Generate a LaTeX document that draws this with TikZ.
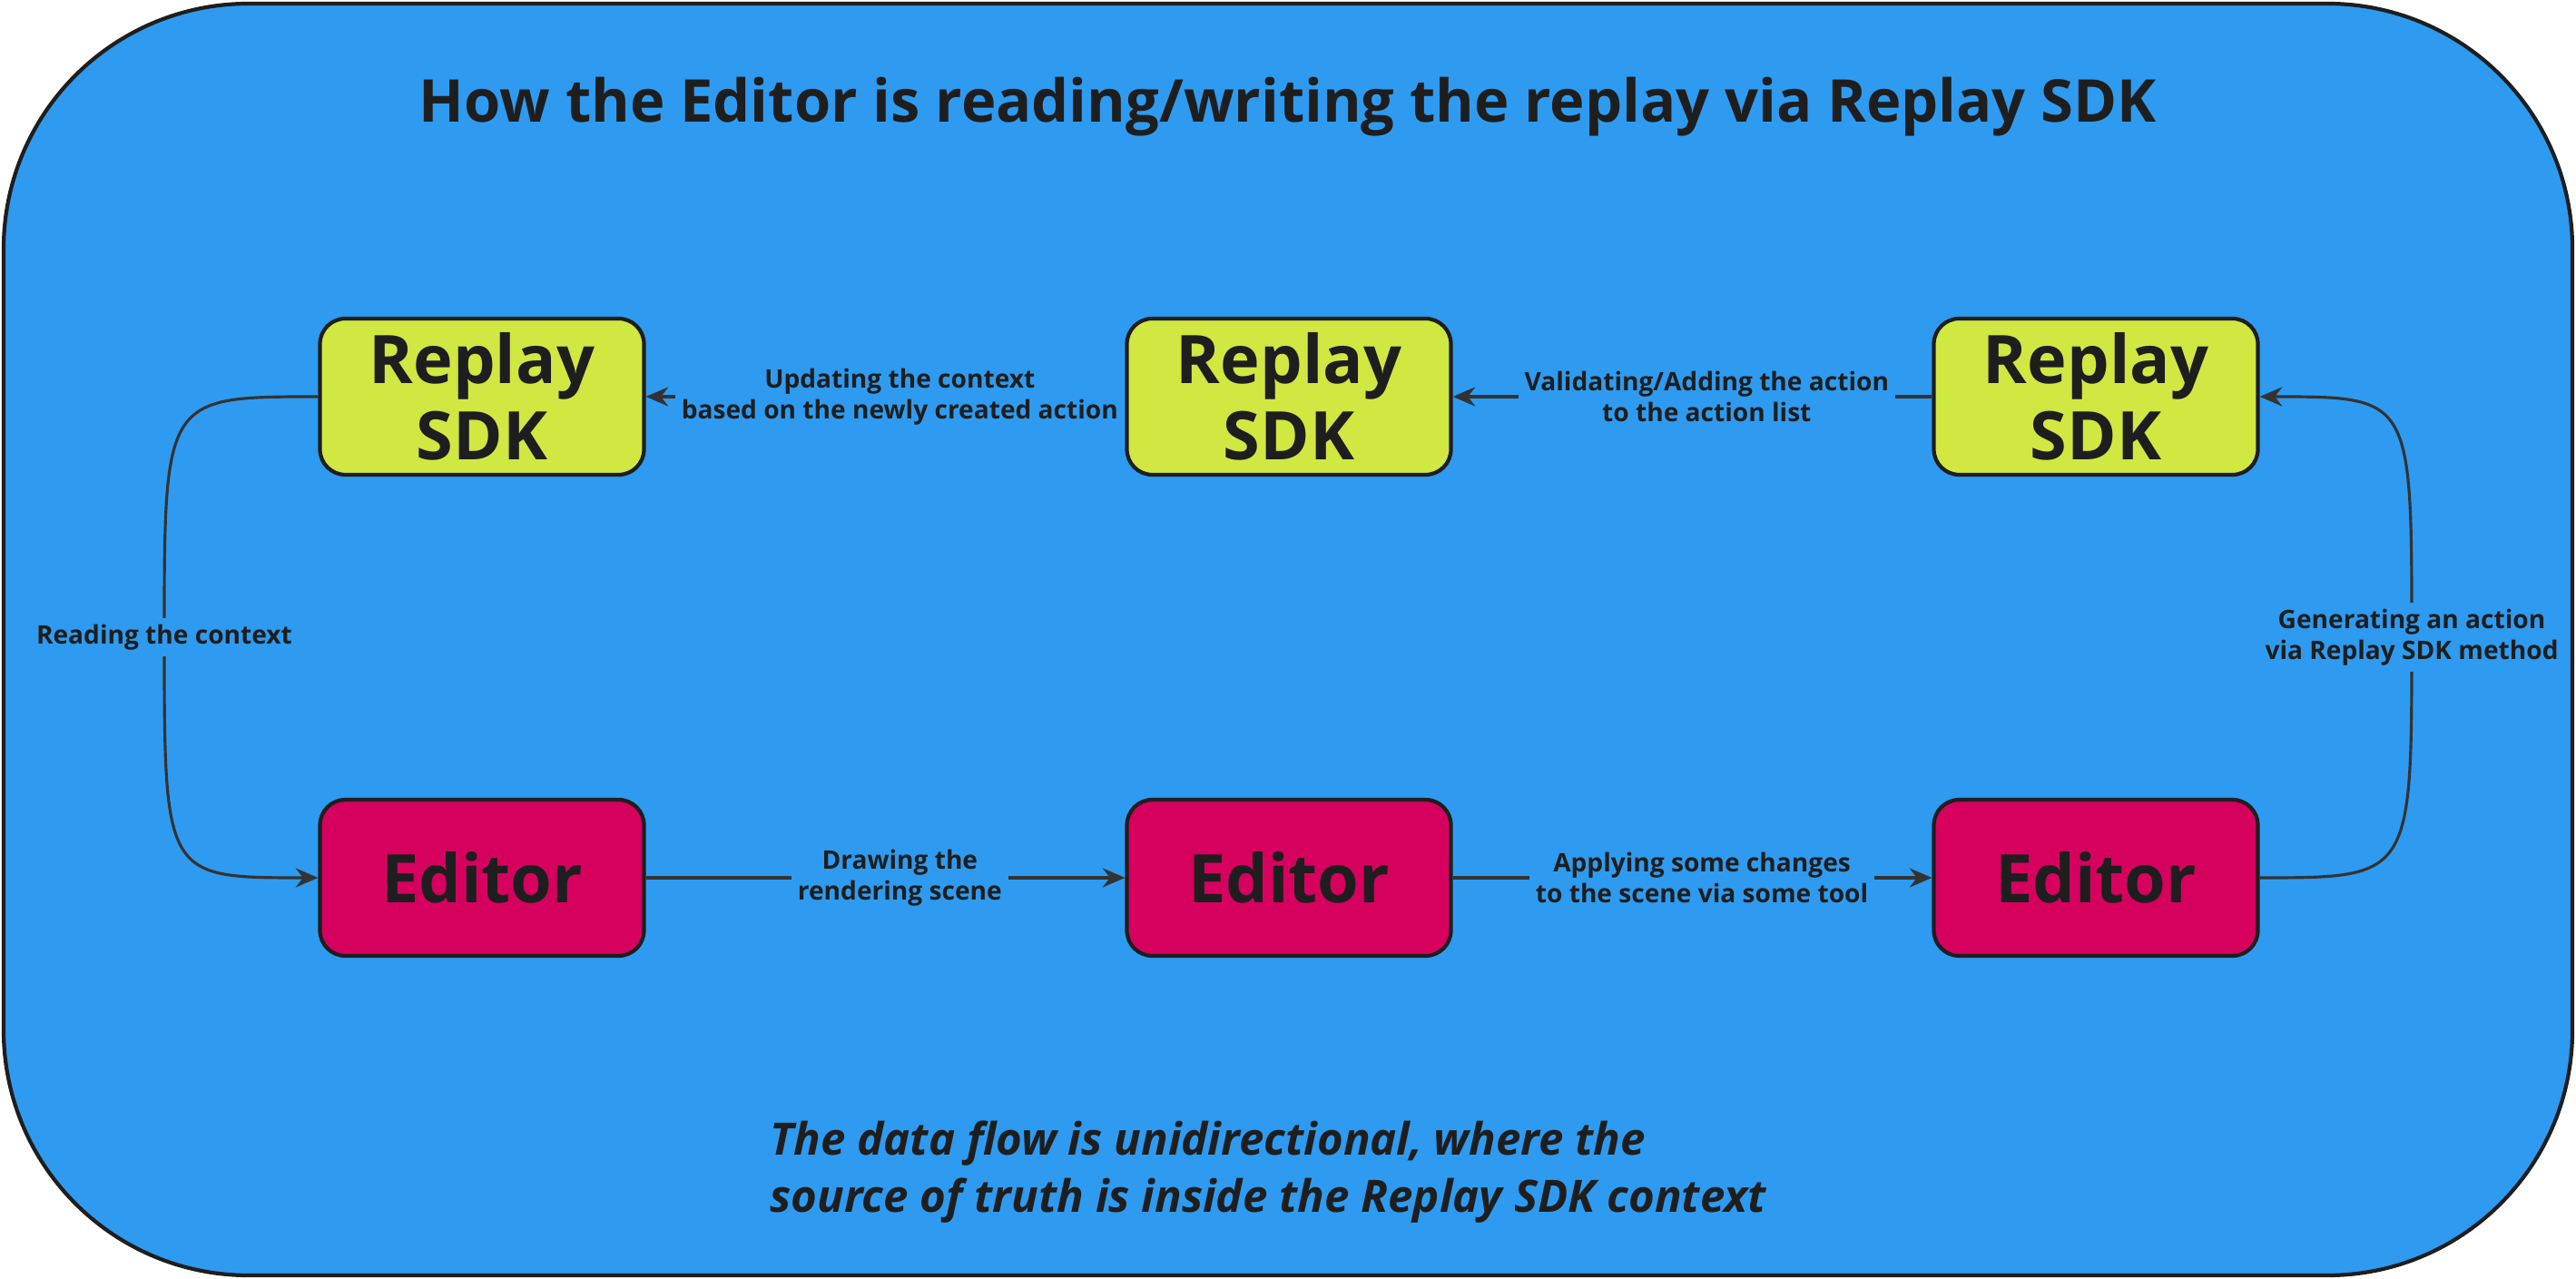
\documentclass[tikz,border=0pt]{standalone}
\usepackage{fontspec}
\setmainfont{Open Sans}
\usetikzlibrary{arrows.meta}
\definecolor{bg}{HTML}{2E9BF0}
\definecolor{rep}{HTML}{D1E742}
\definecolor{edi}{HTML}{D6005F}
\definecolor{ink}{HTML}{1E1E1E}
\definecolor{ln}{HTML}{333333}
\begin{document}
\begin{tikzpicture}[
  box/.style={draw=ink,line width=1.2pt,rounded corners=0.28cm,minimum width=3.57cm,minimum height=1.72cm,align=center,font=\fontsize{21}{24}\selectfont\bfseries,text=ink,inner sep=0pt},
  lab/.style={fill=bg,align=center,font=\fontsize{8}{9.6}\selectfont\bfseries,text=ink,inner sep=2pt},
  arr/.style={draw=ln,line width=0.9pt,-{Stealth[length=7pt,width=6pt]}}]
\useasboundingbox (0,0) rectangle (28.38,14.09);
\draw[fill=bg,draw=ink,line width=1.2pt,rounded corners=2.7cm] (0.04,0.04) rectangle (28.34,14.05);
\node[font=\fontsize{18.5}{22}\selectfont\bfseries,text=ink] (title) at (14.19,12.91) {How the Editor is reading/writing the replay via Replay SDK};
\node[box,fill=rep] (r1) at (5.31,9.72) {Replay\\SDK};
\node[box,fill=rep] (r2) at (14.20,9.72) {Replay\\SDK};
\node[box,fill=rep] (r3) at (23.09,9.72) {Replay\\SDK};
\node[box,fill=edi] (e1) at (5.31,4.42) {Editor};
\node[box,fill=edi] (e2) at (14.20,4.42) {Editor};
\node[box,fill=edi] (e3) at (23.09,4.42) {Editor};
\coordinate (lc) at (1.81,7.07);
\coordinate (rc) at (26.57,7.07);
\draw[arr] (r2.west) -- (r1.east) node[lab,pos=0.47] {Updating the context\\based on the newly created action};
\draw[arr] (r3.west) -- (r2.east) node[lab,pos=0.47] {Validating/Adding the action\\to the action list};
\draw[arr] (e1.east) -- (e2.west) node[lab,pos=0.53] {Drawing the\\rendering scene};
\draw[arr] (e2.east) -- (e3.west) node[lab,pos=0.52] {Applying some changes\\to the scene via some tool};
\draw[arr] (r1.west) .. controls (1.81,9.72) .. (lc) .. controls (1.81,4.42) .. (e1.west);
\draw[arr] (e3.east) .. controls (26.57,4.42) .. (rc) .. controls (26.57,9.72) .. (r3.east);
\node[lab] (l1) at (lc) {Reading the context};
\node[lab] (l2) at (rc) {Generating an action\\via Replay SDK method};
\node[anchor=north west,align=left,font=\fontsize{14}{18}\selectfont\bfseries\itshape,text=ink] (note) at (8.36,1.87) {The data flow is unidirectional, where the\\source of truth is inside the Replay SDK context};
\end{tikzpicture}
\end{document}
